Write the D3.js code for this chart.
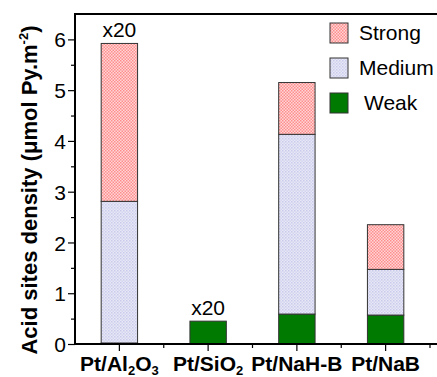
<!DOCTYPE html>
<html>
<head>
<meta charset="utf-8">
<script src="https://cdn.jsdelivr.net/npm/d3@7"></script>
<style>
  html, body { margin: 0; padding: 0; background: #fff; }
  svg { display: block; font-family: Arial, "Liberation Sans", sans-serif; }
</style>
</head>
<body>
<svg id="chart" width="437" height="377"></svg>
<script>
// Catalysts and acid-site densities (µmol Py per m²) by strength
const categories = ["Pt/Al2O3", "Pt/SiO2", "Pt/NaH-B", "Pt/NaB"];
const weak   = [0.02, 0.45, 0.59, 0.57];
const medium = [2.79, 0.00, 3.54, 0.90];
const strong = [3.11, 0.00, 1.02, 0.88];
const scaleNotes = ["x20", "x20", "", ""];
const yTicks = [0, 1, 2, 3, 4, 5, 6];
const seriesNames = ["Strong", "Medium", "Weak"];

const svg = d3.select("#chart");
const W = 437, H = 377;
const m = { left: 75, top: 14, right: 7, bottom: 33 };
const x0 = m.left, x1 = 430, y0 = H - m.bottom, y1 = m.top;
const FS = 21;

const x = d3.scaleBand().domain(categories).range([x0, x1]).padding(0);
const barW = x.bandwidth() * 0.41;
const y = d3.scaleLinear().domain([0, 6.5]).range([y0, y1]);

// Fill patterns
const defs = svg.append("defs");
const pStrong = defs.append("pattern").attr("id", "pStrong")
  .attr("width", 3).attr("height", 3).attr("patternUnits", "userSpaceOnUse");
pStrong.append("rect").attr("width", 3).attr("height", 3).attr("fill", "#ffd6d6");
pStrong.append("rect").attr("width", 1.5).attr("height", 1.5).attr("fill", "#ff8f8f");
pStrong.append("rect").attr("x", 1.5).attr("y", 1.5).attr("width", 1.5).attr("height", 1.5).attr("fill", "#ff8f8f");

const pMed = defs.append("pattern").attr("id", "pMed")
  .attr("width", 3).attr("height", 3).attr("patternUnits", "userSpaceOnUse");
pMed.append("rect").attr("width", 3).attr("height", 3).attr("fill", "#e8e8f6");
pMed.append("rect").attr("width", 1.5).attr("height", 1.5).attr("fill", "#c9cbec");
pMed.append("rect").attr("x", 1.5).attr("y", 1.5).attr("width", 1.5).attr("height", 1.5).attr("fill", "#d4d5f0");

const fills = { Weak: "#007a00", Medium: "url(#pMed)", Strong: "url(#pStrong)" };

// Stacked bars: weak at bottom, then medium, then strong
const rows = categories.map((c, i) => ({ cat: c, Weak: weak[i], Medium: medium[i], Strong: strong[i] }));
const stack = d3.stack().keys(["Weak", "Medium", "Strong"]);
const layers = stack(rows);

layers.forEach(layer => {
  svg.append("g").selectAll("rect").data(layer.filter(d => d[1] - d[0] > 0)).join("rect")
    .attr("x", d => x(d.data.cat) + (x.bandwidth() - barW) / 2)
    .attr("y", d => y(d[1]))
    .attr("width", barW)
    .attr("height", d => y(d[0]) - y(d[1]))
    .attr("fill", fills[layer.key])
    .attr("stroke", "#333")
    .attr("stroke-width", 1);
});

// Scale-factor notes over the bars
svg.append("g").selectAll("text").data(categories.filter((c, i) => scaleNotes[i])).join("text")
  .attr("x", c => x(c) + x.bandwidth() / 2)
  .attr("y", c => { const i = categories.indexOf(c); return y(weak[i] + medium[i] + strong[i]) - 6; })
  .attr("text-anchor", "middle")
  .attr("font-size", FS)
  .text(c => scaleNotes[categories.indexOf(c)]);

// Y axis
const yAxis = svg.append("g").attr("transform", `translate(${x0},0)`)
  .call(d3.axisLeft(y).tickValues(yTicks).tickSize(7).tickPadding(2).tickFormat(d3.format("d")));
yAxis.select(".domain").remove();
yAxis.selectAll("line").attr("stroke", "#000").attr("stroke-width", 1.2);
yAxis.selectAll("text").attr("font-size", FS).attr("font-family", "Arial, 'Liberation Sans', sans-serif").attr("fill", "#000").attr("dy", "0.36em");
svg.append("g").attr("transform", `translate(${x0},0)`)
  .call(d3.axisLeft(y).tickValues(d3.range(0.5, 6.5, 1)).tickSize(4).tickFormat(""))
  .call(g => g.select(".domain").remove())
  .selectAll("line").attr("stroke", "#000").attr("stroke-width", 1.2);

// X axis
const xAxis = svg.append("g").attr("transform", `translate(0,${y0})`)
  .call(d3.axisBottom(x).tickSize(7).tickPadding(6).tickFormat(""));
xAxis.select(".domain").remove();
xAxis.selectAll("line").attr("stroke", "#000").attr("stroke-width", 1.2);
const bounds = d3.range(1, categories.length + 1).map(i => x0 + i * x.step());
svg.append("g").selectAll("line").data(bounds).join("line")
  .attr("x1", d => d).attr("x2", d => d).attr("y1", y0).attr("y2", y0 + 4)
  .attr("stroke", "#000").attr("stroke-width", 1.2);

// Category labels with subscripts
const labelParts = {
  "Pt/Al2O3": [["Pt/Al", 0], ["2", 1], ["O", 0], ["3", 1]],
  "Pt/SiO2": [["Pt/SiO", 0], ["2", 1]],
  "Pt/NaH-B": [["Pt/NaH-B", 0]],
  "Pt/NaB": [["Pt/NaB", 0]]
};
categories.forEach(c => {
  const t = svg.append("text")
    .attr("x", x(c) + x.bandwidth() / 2)
    .attr("y", 371)
    .attr("text-anchor", "middle")
    .attr("font-size", FS).attr("font-weight", "bold");
  labelParts[c].forEach(([s, sub]) => {
    const ts = t.append("tspan").text(s);
    if (sub) ts.attr("font-size", 13).attr("dy", 4);
    else if (t.selectAll("tspan").size() > 1) ts.attr("dy", -4);
  });
});

// Frame lines: left axis, bottom axis, top border
svg.append("line").attr("x1", x0).attr("x2", x0).attr("y1", y1).attr("y2", y0 + 1)
  .attr("stroke", "#000").attr("stroke-width", 2);
svg.append("line").attr("x1", x0).attr("x2", W).attr("y1", y0).attr("y2", y0)
  .attr("stroke", "#000").attr("stroke-width", 2);
svg.append("line").attr("x1", x0 - 1).attr("x2", W).attr("y1", y1).attr("y2", y1)
  .attr("stroke", "#000").attr("stroke-width", 2);

// Y axis title
svg.append("text")
  .attr("transform", `translate(37,190) rotate(-90)`)
  .attr("text-anchor", "middle")
  .attr("font-size", 22).attr("font-weight", "bold")
  .call(t => {
    t.append("tspan").text("Acid sites density (μmol Py.m");
    t.append("tspan").text("-2").attr("font-size", 13).attr("dy", -9);
    t.append("tspan").text(")").attr("dy", 9);
  });

// Legend
const leg = svg.append("g");
seriesNames.forEach((s, i) => {
  const yy = 23 + i * 35;
  leg.append("rect").attr("x", 330).attr("y", yy).attr("width", 18).attr("height", 20)
    .attr("fill", fills[s]).attr("stroke", "#333").attr("stroke-width", 1);
  leg.append("text").attr("x", s === "Weak" ? 364 : 359).attr("y", yy + 17)
    .attr("font-size", FS).text(s);
});
</script>
</body>
</html>
